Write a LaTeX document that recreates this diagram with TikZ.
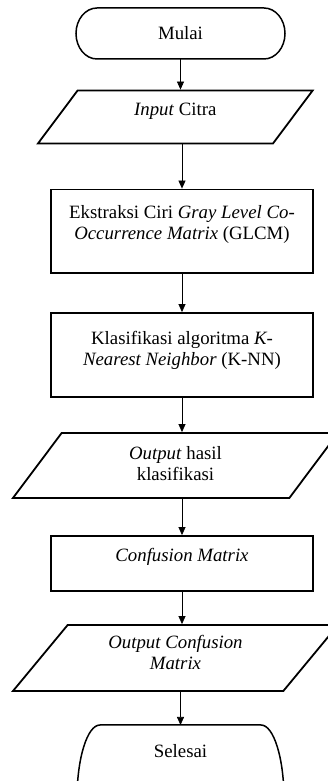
\documentclass[tikz,border=0pt]{standalone}
\usepackage{fontspec}
\setmainfont{Liberation Serif}
\usetikzlibrary{shapes.geometric,arrows.meta}
\newcommand{\lift}[2]{\raisebox{0pt}[\height][\dimexpr\depth+#1\relax]{\begin{tabular}{@{}c@{}}#2\end{tabular}}}

\begin{document}
\begin{tikzpicture}[x=1pt,y=1pt]
\tikzset{procbox/.style={draw,line width=1.8pt,minimum width=262pt,font=\fontsize{18.8}{21}\selectfont},
iobox/.style={trapezium,trapezium left angle=45,trapezium right angle=135,trapezium stretches body,draw,line width=1.8pt,font=\fontsize{18.8}{21}\selectfont},
termbox/.style={outer sep=0pt,font=\fontsize{18.8}{21}\selectfont},
termline/.style={line width=1.5pt},
flow/.style={-{Triangle[length=8pt,width=7pt]},line width=0.7pt}}
\useasboundingbox (0,0) rectangle (328,781);
\clip (0,0) rectangle (328,781);
% shapes
\node[termbox,minimum width=209pt,minimum height=51pt] (mulai) at (180.5,747.5) {Mulai};
\node[iobox,minimum width=274.7pt,minimum height=53pt] (in1) at (175.3,664) {\lift{12pt}{\textit{Input} Citra}};
\node[procbox,minimum height=83.5pt] (glcm) at (182,549.75) {\lift{12pt}{Ekstraksi Ciri \textit{Gray Level Co-}\\\textit{Occurrence Matrix} (GLCM)}};
\node[procbox,minimum height=84pt] (knn) at (182,426) {\lift{8pt}{Klasifikasi algoritma \textit{K-}\\\textit{Nearest Neighbor} (K-NN)}};
\node[iobox,minimum width=325pt,minimum height=65pt] (out1) at (175.5,315.5) {\lift{0pt}{\textit{Output} hasil\\klasifikasi}};
\node[procbox,minimum height=55pt] (cm) at (182,217.5) {\lift{12pt}{\textit{Confusion Matrix}}};
\node[iobox,minimum width=325pt,minimum height=66pt] (out2) at (175.5,123) {\lift{6pt}{\textit{Output Confusion}\\\textit{Matrix}}};
\node[termbox,minimum width=207pt,minimum height=148pt] (selesai) at (180.5,-18) {\lift{92pt}{Selesai}};
% terminal outlines
\draw[termline] ([xshift=21pt]mulai.north west) -- ([xshift=-21pt]mulai.north east)
  arc[start angle=90,end angle=-90,x radius=21pt,y radius=25.5pt]
  -- ([xshift=21pt]mulai.south west)
  arc[start angle=270,end angle=90,x radius=21pt,y radius=25.5pt] -- cycle;
\draw[termline] ([xshift=23pt]selesai.north west) -- ([xshift=-23pt]selesai.north east)
  arc[start angle=90,end angle=-90,x radius=23pt,y radius=74pt]
  -- ([xshift=23pt]selesai.south west)
  arc[start angle=270,end angle=90,x radius=23pt,y radius=74pt] -- cycle;
% connectors
\draw[flow] (mulai.south) -- (mulai.south |- in1.north);
\draw[flow] (glcm.north |- in1.south) -- (glcm.north);
\draw[flow] (glcm.south) -- (knn.north);
\draw[flow] (knn.south) -- (knn.south |- out1.north);
\draw[flow] (cm.north |- out1.south) -- (cm.north);
\draw[flow] (cm.south) -- (cm.south |- out2.north);
\draw[flow] (selesai.north |- out2.south) -- (selesai.north);
\end{tikzpicture}
\end{document}
